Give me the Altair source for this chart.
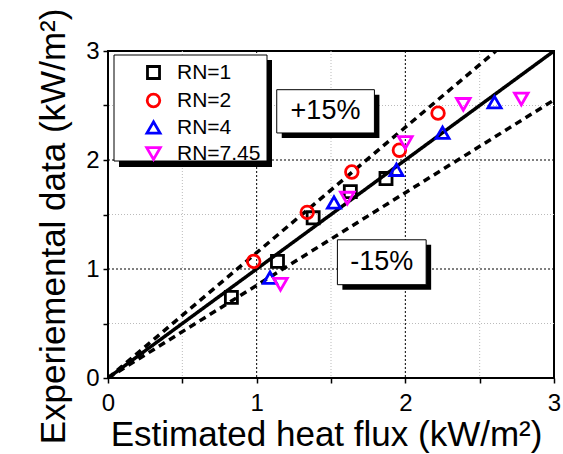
import altair as alt
import pandas as pd

# ---- data ----
series_names = ["RN=1", "RN=2", "RN=4", "RN=7.45"]
rn1_x = [0.83, 1.14, 1.38, 1.63, 1.87]
rn1_y = [0.74, 1.07, 1.47, 1.71, 1.83]
rn2_x = [0.98, 1.34, 1.64, 1.96, 2.22]
rn2_y = [1.07, 1.52, 1.89, 2.09, 2.43]
rn4_x = [1.09, 1.52, 1.94, 2.25, 2.60]
rn4_y = [0.92, 1.61, 1.91, 2.25, 2.53]
rn745_x = [1.16, 1.61, 2.00, 2.39, 2.78]
rn745_y = [0.86, 1.65, 2.16, 2.51, 2.56]

ref_names = ["y=x", "+15%", "-15%"]
ref_ratio = [1.0, 1.15, 0.85]

tick_values = [0, 0.5, 1, 1.5, 2, 2.5, 3]
grid_minor = [0.5, 1.5, 2.5]
grid_major = [1, 2]

ann_labels = ["+15%", "-15%"]
ann_x = [1.463, 1.841]
ann_y = [2.446, 1.062]
ann_x1 = [1.135, 1.543]
ann_x2 = [1.792, 2.140]
ann_y1 = [2.248, 0.856]
ann_y2 = [2.645, 1.268]

colors = ["#000000", "#ff0000", "#0000ff", "#ff00ff"]
shapes = ["square", "circle", "triangle-up", "triangle-down"]
sizes = [145, 185, 245, 245]

FONT = "Liberation Sans"

# ---- tables ----
rows = []
for name, xs, ys in zip(series_names, [rn1_x, rn2_x, rn4_x, rn745_x],
                        [rn1_y, rn2_y, rn4_y, rn745_y]):
    for a, b in zip(xs, ys):
        rows.append({"series": name, "x": a, "y": b})
pts = pd.DataFrame(rows)

ref_rows = []
for name, r in zip(ref_names, ref_ratio):
    xend = min(3.0, 3.0 / r)
    ref_rows.append({"line": name, "x": 0.0, "y": 0.0})
    ref_rows.append({"line": name, "x": xend, "y": xend * r})
refs = pd.DataFrame(ref_rows)

ann = pd.DataFrame({"label": ann_labels, "x": ann_x, "y": ann_y,
                    "x1": ann_x1, "x2": ann_x2, "y1": ann_y1, "y2": ann_y2})

xscale = alt.Scale(domain=[0, 3], nice=False)
yscale = alt.Scale(domain=[0, 3], nice=False)

LBL = "datum.value % 1 == 0 ? format(datum.value, 'd') : ''"

x_axis = alt.Axis(values=tick_values, labelExpr=LBL, labelFlush=False,
                  title="Estimated heat flux (kW/m²)", grid=False, domain=False,
                  tickColor="black", tickWidth=1.5, tickSize=5,
                  labelFont=FONT, labelFontSize=24, labelColor="black", labelPadding=8,
                  titleFont=FONT, titleFontSize=35, titleFontWeight="normal",
                  titleColor="black", titlePadding=2, titleX=218)
y_axis = alt.Axis(values=tick_values, labelExpr=LBL, labelFlush=False,
                  title="Experiemental data (kW/m²)", grid=False, domain=False,
                  tickColor="black", tickWidth=1.5, tickSize=5,
                  labelFont=FONT, labelFontSize=24, labelColor="black", labelPadding=4,
                  titleFont=FONT, titleFontSize=35, titleFontWeight="normal",
                  titleColor="black", titlePadding=14, titleY=175)

gmin = pd.DataFrame({"v": grid_minor})
gmaj = pd.DataFrame({"v": grid_major})

vminor = alt.Chart(gmin).mark_rule(color="#bbbbbb", strokeDash=[1, 2], strokeWidth=1).encode(
    x=alt.X("v:Q", scale=xscale, axis=x_axis))
hminor = alt.Chart(gmin).mark_rule(color="#bbbbbb", strokeDash=[1, 2], strokeWidth=1).encode(
    y=alt.Y("v:Q", scale=yscale, axis=y_axis))
vmajor = alt.Chart(gmaj).mark_rule(color="black", strokeDash=[2, 2], strokeWidth=1).encode(
    x=alt.X("v:Q", scale=xscale))
hmajor = alt.Chart(gmaj).mark_rule(color="black", strokeDash=[2, 2], strokeWidth=1).encode(
    y=alt.Y("v:Q", scale=yscale))

lines = alt.Chart(refs).mark_line(color="black", strokeWidth=3.5, clip=True).encode(
    x=alt.X("x:Q", scale=xscale),
    y=alt.Y("y:Q", scale=yscale),
    detail="line:N",
    strokeDash=alt.StrokeDash("line:N", scale=alt.Scale(domain=ref_names,
                              range=[[1, 0], [7, 5], [7, 5]]), legend=None),
)

# legend box
leg_shadow = alt.Chart(pd.DataFrame({"a": [0]})).mark_rect(color="black").encode(
    x=alt.value(11), x2=alt.value(164), y=alt.value(9), y2=alt.value(116))
leg_box = alt.Chart(pd.DataFrame({"a": [0]})).mark_rect(
    fill="white", stroke="black", strokeWidth=1).encode(
    x=alt.value(6), x2=alt.value(159), y=alt.value(4), y2=alt.value(110))

points = alt.Chart(pts).mark_point(filled=False, strokeWidth=2.8, opacity=1).encode(
    x=alt.X("x:Q", scale=xscale),
    y=alt.Y("y:Q", scale=yscale),
    color=alt.Color("series:N", scale=alt.Scale(domain=series_names, range=colors),
                    legend=alt.Legend(title=None, orient="none", legendX=35, legendY=11,
                                      labelFont=FONT, labelFontSize=21, labelColor="black",
                                      labelOffset=13, rowPadding=3, padding=0,
                                      symbolStrokeWidth=2.8, symbolFillColor="transparent")),
    shape=alt.Shape("series:N", scale=alt.Scale(domain=series_names, range=shapes)),
    size=alt.Size("series:N", scale=alt.Scale(domain=series_names, range=sizes)),
)

ann_shadow = alt.Chart(ann).mark_rect(color="black", xOffset=5, x2Offset=5,
                                      yOffset=5, y2Offset=5).encode(
    x=alt.X("x1:Q", scale=xscale), x2="x2:Q",
    y=alt.Y("y1:Q", scale=yscale), y2="y2:Q")
ann_box = alt.Chart(ann).mark_rect(fill="white", stroke="black", strokeWidth=1).encode(
    x=alt.X("x1:Q", scale=xscale), x2="x2:Q",
    y=alt.Y("y1:Q", scale=yscale), y2="y2:Q")
ann_text = alt.Chart(ann).mark_text(font=FONT, fontSize=27, color="black",
                                    align="center", baseline="middle").encode(
    x=alt.X("x:Q", scale=xscale), y=alt.Y("y:Q", scale=yscale), text="label:N")

chart = alt.layer(
    vminor, hminor, vmajor, hmajor, lines, points,
    leg_shadow, leg_box, ann_shadow, ann_box, ann_text
).resolve_scale(strokeDash="independent").properties(
    width=446, height=327,
    autosize=alt.AutoSizeParams(type="none"),
    padding={"left": 108, "top": 51, "right": 9, "bottom": 76},
    background="white",
).configure_view(stroke="black", strokeWidth=2)

chart.save("out.html", embed_options={"renderer": "svg", "actions": False})
